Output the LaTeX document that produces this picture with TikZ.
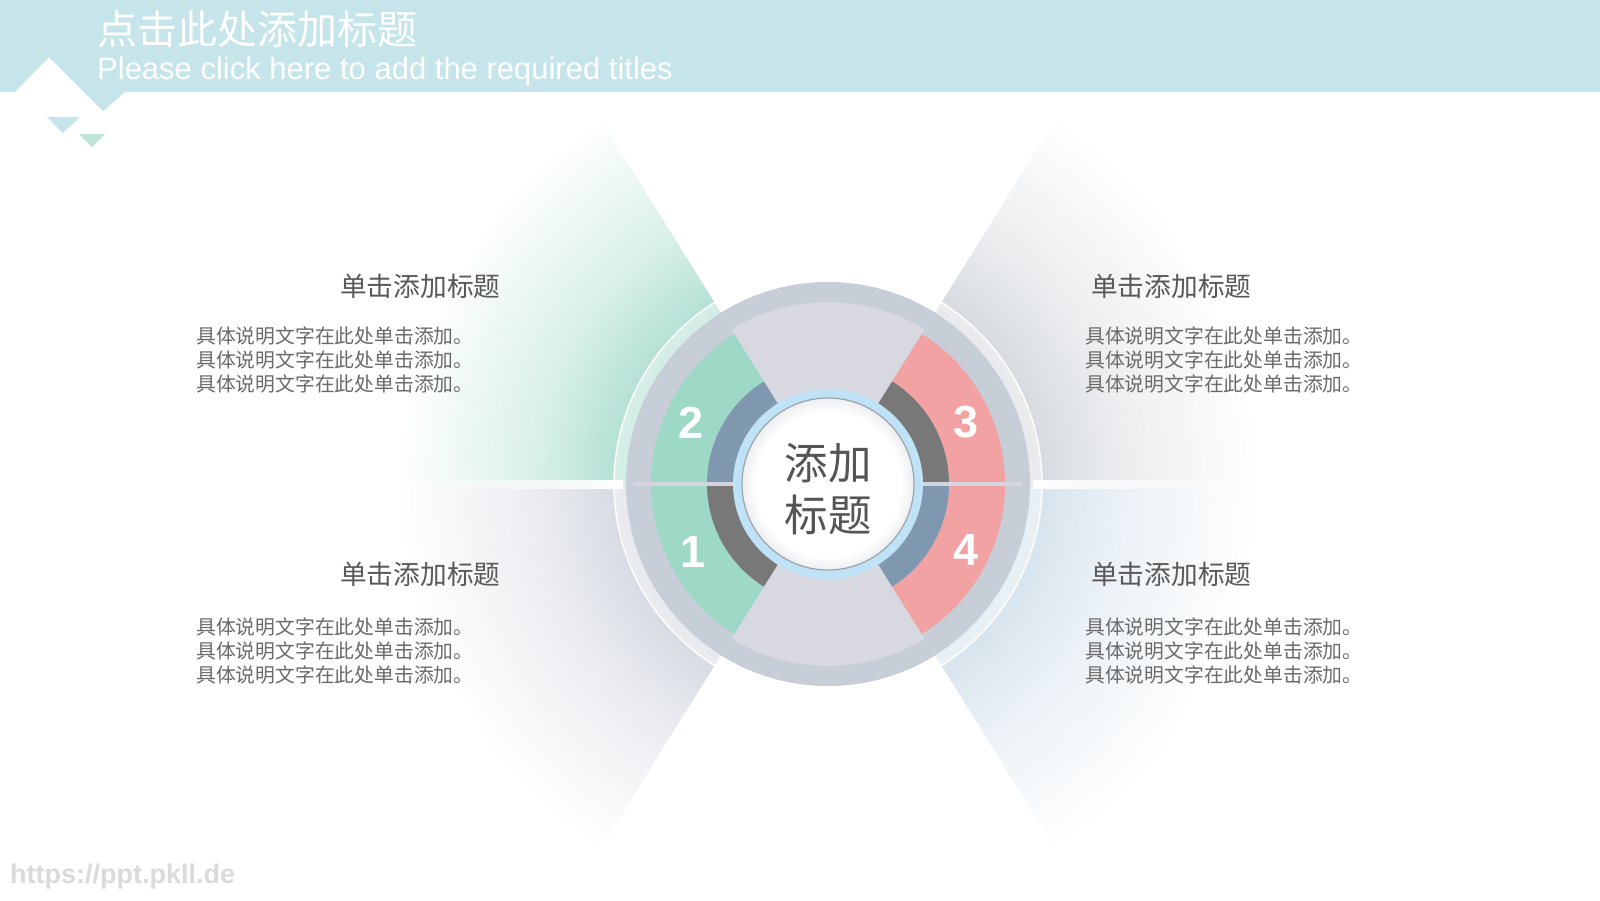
\documentclass[tikz,border=0pt]{standalone}
\usepackage{fontspec}
\newfontfamily\cjk{Noto Sans CJK SC}
\newfontfamily\lib{Liberation Sans}
\usetikzlibrary{fadings}
\definecolor{band}{HTML}{C5E5EA}
\definecolor{mint}{HTML}{BDE6D9}
\definecolor{cUL}{HTML}{B2E0D4}
\definecolor{cUR}{HTML}{D6DADF}
\definecolor{cLL}{HTML}{D6DAE2}
\definecolor{cLR}{HTML}{D6E3ED}
\definecolor{disk}{HTML}{C8CED8}
\definecolor{wedge}{HTML}{D8D8E1}
\definecolor{cgreen}{HTML}{9ED8C6}
\definecolor{cred}{HTML}{F2A2A3}
\definecolor{bgrey}{HTML}{7F98B0}
\definecolor{dgrey}{HTML}{787878}
\definecolor{sepline}{HTML}{D4D5DF}
\definecolor{bluering}{HTML}{BFE2F6}
\definecolor{ringedge}{HTML}{9CA3AE}
\definecolor{txt}{HTML}{595959}
\definecolor{wm}{HTML}{DADADA}
\pgfdeclareradialshading{beamUL}{\pgfpointorigin}{color(0bp)=(cUL); color(12bp)=(cUL); color(17bp)=(cUL!50!white); color(25bp)=(white); color(50bp)=(white)}
\pgfdeclareradialshading{beamUR}{\pgfpointorigin}{color(0bp)=(cUR); color(12bp)=(cUR); color(17bp)=(cUR!50!white); color(25bp)=(white); color(50bp)=(white)}
\pgfdeclareradialshading{beamLL}{\pgfpointorigin}{color(0bp)=(cLL); color(12bp)=(cLL); color(17bp)=(cLL!50!white); color(25bp)=(white); color(50bp)=(white)}
\pgfdeclareradialshading{beamLR}{\pgfpointorigin}{color(0bp)=(cLR); color(12bp)=(cLR); color(17bp)=(cLR!50!white); color(25bp)=(white); color(50bp)=(white)}
\pgfdeclareradialshading{innerc}{\pgfpointorigin}{color(0bp)=(white); color(21bp)=(white); color(25bp)=(ringedge!18!white); color(50bp)=(ringedge!18!white)}
\tikzfading[name=fadeleft, left color=transparent!100, right color=transparent!0]
\tikzfading[name=faderight, left color=transparent!0, right color=transparent!100]
\newcommand\annsec[4]{(#1:#3) arc[start angle=#1,end angle=#2,radius=#3] -- (#2:#4) arc[start angle=#2,end angle=#1,radius=#4] -- cycle}
\tikzset{
  heading/.style={anchor=west, inner sep=0pt, text=txt, font=\cjk\fontsize{26.7}{32}\selectfont},
  bodytext/.style={anchor=west, inner sep=0pt, align=left, text=txt!90!white, font=\cjk\fontsize{19.8}{24}\selectfont},
  numlabel/.style={inner sep=0pt, text=white, font=\lib\bfseries\fontsize{45}{45}\selectfont}
}
\begin{document}
\begin{tikzpicture}[x=1pt,y=-1pt]
\useasboundingbox (0,0) rectangle (1600,900);
\fill[white] (0,0) rectangle (1600,900);
% header
\fill[band] (0,0) -- (1600,0) -- (1600,92) -- (125,92) -- (103,111) -- (49,57) -- (15,92) -- (0,92) -- cycle;
\fill[band] (47,117) -- (80,117) -- (63,133) -- cycle;
\fill[mint] (79,134) -- (105,134) -- (92,147) -- cycle;
\node[anchor=west, inner sep=0pt, text=white, font=\cjk\fontsize{40}{40}\selectfont] (title) at (97,29) {点击此处添加标题};
\node[anchor=west, inner sep=0pt, text=white, font=\lib\fontsize{31}{31}\selectfont] (subtitle) at (97,71) {Please click here to add the required titles};
\begin{scope}[shift={(828,484)}]
\coordinate (C) at (0,0);
% beams
\begin{scope}\clip (0,0) -- (-122:480) -- (180:480) -- cycle; \shade[shading=beamUL] (0,0) circle[radius=430]; \end{scope}
\begin{scope}\clip (0,0) -- (-58:480) -- (0:480) -- cycle; \shade[shading=beamUR] (0,0) circle[radius=430]; \end{scope}
\begin{scope}\clip (0,0) -- (122:480) -- (180:480) -- cycle; \shade[shading=beamLL] (0,0) circle[radius=430]; \end{scope}
\begin{scope}\clip (0,0) -- (58:480) -- (0:480) -- cycle; \shade[shading=beamLR] (0,0) circle[radius=430]; \end{scope}
% white horizontal lines
\fill[white, path fading=fadeleft] (-445,-4.5) rectangle (-205,4.5);
\fill[white, path fading=faderight] (205,-4.5) rectangle (430,4.5);
% outer ring
\fill[white, fill opacity=0.45] (C) circle[radius=214];
\draw[white, line width=1.5] (C) circle[radius=214];
\fill[disk] (C) circle[radius=202];
\fill[wedge] (C) -- (-58:182) arc[start angle=-58, end angle=-122, radius=182] -- cycle;
\fill[wedge] (C) -- (58:182) arc[start angle=58, end angle=122, radius=182] -- cycle;
% coloured sectors
\fill[cgreen] \annsec{122}{238}{177}{121};
\fill[cred] \annsec{-58}{58}{177}{121};
% dark band
\fill[bgrey] \annsec{180}{238}{121}{90};
\fill[dgrey] \annsec{122}{180}{121}{90};
\fill[dgrey] \annsec{-58}{0}{121}{90};
\fill[bgrey] \annsec{0}{58}{121}{90};
% separator
\draw[sepline, line width=4] (-195,0) -- (194,0);
% centre circles
\fill[bluering] (C) circle[radius=95];
\shade[shading=innerc] (C) circle[radius=86];
\draw[ringedge, line width=1.2] (C) circle[radius=86];
\node[inner sep=0pt, align=center, text=txt!95!black, font=\cjk\fontsize{43.5}{52}\selectfont] (ctext) at (0,5) {添加\\标题};
% numbers
\node[numlabel] (n2) at (-137,-61) {2};
\node[numlabel] (n1) at (-135,68) {1};
\node[numlabel] (n3) at (138,-62) {3};
\node[numlabel] (n4) at (138,66) {4};
\end{scope}
% texts
\node[heading] (h1) at (340,286) {单击添加标题};
\node[bodytext] (b1) at (196,360) {具体说明文字在此处单击添加。\\具体说明文字在此处单击添加。\\具体说明文字在此处单击添加。};
\node[heading] (h2) at (1091,286) {单击添加标题};
\node[bodytext] (b2) at (1085,360) {具体说明文字在此处单击添加。\\具体说明文字在此处单击添加。\\具体说明文字在此处单击添加。};
\node[heading] (h3) at (340,574) {单击添加标题};
\node[bodytext] (b3) at (196,651) {具体说明文字在此处单击添加。\\具体说明文字在此处单击添加。\\具体说明文字在此处单击添加。};
\node[heading] (h4) at (1091,574) {单击添加标题};
\node[bodytext] (b4) at (1085,651) {具体说明文字在此处单击添加。\\具体说明文字在此处单击添加。\\具体说明文字在此处单击添加。};
% watermark
\node[anchor=west, inner sep=0pt, text=wm, font=\lib\bfseries\fontsize{27}{27}\selectfont] (wmark) at (10,877) {https://ppt.pkll.de};
\end{tikzpicture}
\end{document}
